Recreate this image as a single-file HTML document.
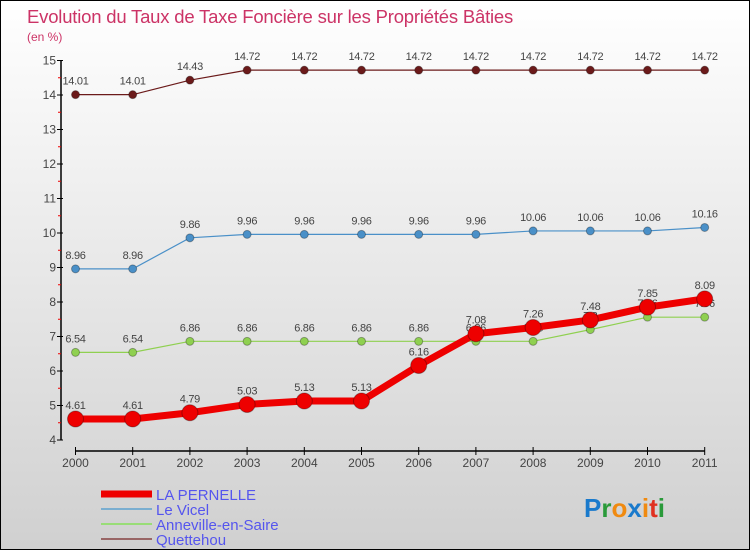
<!DOCTYPE html>
<html><head><meta charset="utf-8"><style>
body{margin:0}
#c{width:748px;height:548px;border:1px solid #000;background:linear-gradient(#fff,#d0d0d0);position:relative;font-family:"Liberation Sans",sans-serif}
text{font-family:"Liberation Sans",sans-serif}
</style></head><body>
<div id="c">
<svg id="s" width="748" height="548" style="position:absolute;left:0;top:0"></svg>
</div>
<script>
const years=["2000","2001","2002","2003","2004","2005","2006","2007","2008","2009","2010","2011"];
const laPernelle=[4.61,4.61,4.79,5.03,5.13,5.13,6.16,7.08,7.26,7.48,7.85,8.09];
const leVicel=[8.96,8.96,9.86,9.96,9.96,9.96,9.96,9.96,10.06,10.06,10.06,10.16];
const anneville=[6.54,6.54,6.86,6.86,6.86,6.86,6.86,6.86,6.86,7.2,7.56,7.56];
const quettehou=[14.01,14.01,14.43,14.72,14.72,14.72,14.72,14.72,14.72,14.72,14.72,14.72];
const yTicks=[4,5,6,7,8,9,10,11,12,13,14,15];
const NS="http://www.w3.org/2000/svg";
const s=document.getElementById('s');
function X(i){return 74.5+i*57.2;}
function Y(v){return 439-(v-4)*34.5;}
function el(t,a,p){const e=document.createElementNS(NS,t);for(const k in a)e.setAttribute(k,a[k]);(p||s).appendChild(e);return e;}
let t=el('text',{x:26,y:22,fill:'#cc3366','font-size':18.5,'letter-spacing':'-0.2'});t.textContent='Evolution du Taux de Taxe Foncière sur les Propriétés Bâties';


t=el('text',{x:26,y:40,fill:'#cc3366','font-size':12});t.textContent='(en %)';


let a=el('line',{x1:60,y1:Y(15),x2:60,y2:Y(4),stroke:'#000','stroke-width':1.5});


yTicks.forEach(v=>{
 el('line',{x1:56,x2:62,y1:Y(v),y2:Y(v),stroke:'#000'});
 if(v<15)el('line',{x1:57,x2:60,y1:Y(v+0.5),y2:Y(v+0.5),stroke:'#e00'});
 const l=el('text',{x:55,y:Y(v)+4,'text-anchor':'end','font-size':12,fill:'#444'});l.textContent=v;
 
 
});
a=el('line',{x1:X(0),y1:450,x2:X(11),y2:450,stroke:'#000','stroke-width':1.5});


years.forEach((y,i)=>{
 el('line',{x1:X(i),x2:X(i),y1:446,y2:454,stroke:'#000'});
 const l=el('text',{x:X(i),y:466,'text-anchor':'middle','font-size':12,fill:'#444'});l.textContent=y;
 
 
});
function series(vals,color,w,r,name){
 const g=el('g',{});
 
 
 el('polyline',{points:vals.map((v,i)=>X(i)+','+Y(v)).join(' '),fill:'none',stroke:color,'stroke-width':w},g);
 vals.forEach((v,i)=>{
  const c=el('circle',{cx:X(i),cy:Y(v),r:r,fill:color,stroke:'rgba(0,0,0,0.3)'},g);
  
  
  const l=el('text',{x:X(i),y:Y(v)-10,'text-anchor':'middle','font-size':11,'letter-spacing':'-0.3',fill:'#444'},g);l.textContent=v;
  
  
 });
}
series(quettehou,'#6b1a1a',1.2,4,'quettehou-series');
series(leVicel,'#4a90c8',1.2,4,'le-vicel-series');
series(anneville,'#8fd050',1.2,4,'anneville-series');
series(laPernelle,'#ee0000',7,8,'la-pernelle-series');
const leg=[['LA PERNELLE','#ee0000',7],['Le Vicel','#7aaed0',2],['Anneville-en-Saire','#99dd77',2],['Quettehou','#996666',2]];
leg.forEach((L,i)=>{
 const g=el('g',{});
 
 
 const y=493+i*15;
 el('line',{x1:100,x2:151,y1:y,y2:y,stroke:L[1],'stroke-width':L[2]},g);
 const l=el('text',{x:155,y:y+6,'font-size':15,fill:'#5555ee'},g);l.textContent=L[0];
});
const lg=el('text',{x:583,y:516,'font-size':26,'font-weight':'bold'});


[['P','#1a7acc'],['r','#2a9a3a'],['o','#f08a10'],['x','#1a7acc'],['i','#f08a10'],['t','#e03020'],['i','#2a9a3a']].forEach(p=>{const ts=el('tspan',{fill:p[1]},lg);ts.textContent=p[0];});
</script>
</body></html>
